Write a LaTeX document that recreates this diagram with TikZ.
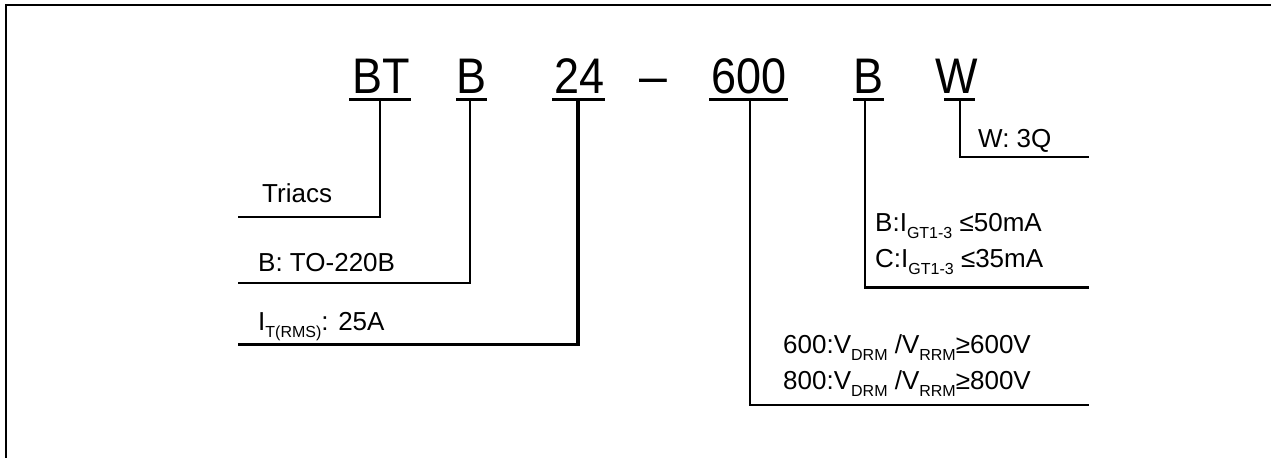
\documentclass[tikz,border=0pt]{standalone}
\usepackage{fontspec}
\setmainfont{Liberation Sans}
\newcommand{\sbs}[1]{\raisebox{-0.28em}{\fontsize{16}{16}\selectfont #1}}
\newcommand{\narrowtxt}[1]{\scalebox{0.9}[1]{#1}}
\begin{document}
\begin{tikzpicture}[x=1pt,y=-1pt,
  part/.style={anchor=base, inner sep=0pt, font=\fontsize{50}{50}\selectfont},
  lbl/.style={anchor=base west, inner sep=0pt, font=\fontsize{26}{26}\selectfont},
  leader/.style={line width=1.4pt},
  uline/.style={line width=3pt},
  heavy/.style={line width=4pt},
  heavyh/.style={line width=3pt}]
\useasboundingbox (0,0) rectangle (1271,458);
% frame
\draw[line width=2pt] (1271,4.5) -- (5.5,4.5) -- (5.5,458);
% title parts
\node[part] (bt) at (381.5,93) {\narrowtxt{BT}};
\node[part] (pk) at (472,93) {\narrowtxt{B}};
\node[part] (cur) at (579.5,93) {\narrowtxt{24}};
\node[part] (dash) at (653.5,93) {–};
\node[part] (volt) at (749,93) {\narrowtxt{600}};
\node[part] (gate) at (868,93) {\narrowtxt{B}};
\node[part] (quad) at (957,93) {\narrowtxt{W}};
% underlines
\coordinate (u1a) at (349,99); \coordinate (u1b) at (411,99);
\coordinate (u2a) at (456,99); \coordinate (u2b) at (487,99);
\coordinate (u3a) at (552,99); \coordinate (u3b) at (605,99);
\coordinate (u4a) at (709,99); \coordinate (u4b) at (788,99);
\coordinate (u5a) at (853,99); \coordinate (u5b) at (884,99);
\coordinate (u6a) at (944,99); \coordinate (u6b) at (975,99);
\foreach \i in {1,...,6} {\draw[uline] (u\i a) -- (u\i b);}
% labels
\node[lbl] (ltri) at (262,202) {Triacs};
\node[lbl] (lpk) at (258,271) {B: TO-220B};
\node[lbl] (lcur) at (258,330) {I\sbs{T(RMS)}: 25A};
\node[lbl] (lv1) at (783,353) {600:V\sbs{DRM} /V\sbs{RRM}≥600V};
\node[lbl] (lv2) at (783,389) {800:V\sbs{DRM} /V\sbs{RRM}≥800V};
\node[lbl] (lg1) at (875,231) {B:I\sbs{GT1-3} ≤50mA};
\node[lbl] (lg2) at (875,267) {C:I\sbs{GT1-3} ≤35mA};
\node[lbl] (lq) at (978,147) {W: 3Q};
% leader ends
\coordinate (e1) at (238,217);
\coordinate (e2) at (238,283);
\coordinate (e3) at (238,344);
\coordinate (e4) at (1089,405);
\coordinate (e5) at (1089,287);
\coordinate (e6) at (1089,157);
% leaders
\draw[leader] (380,99) |- (e1);
\draw[leader] (470,99) |- (e2);
\draw[heavy] (578,99) -- (578,344);
\draw[heavyh] (579.5,344) -- (e3);
\draw[leader] (750,99) |- (e4);
\draw[leader] (865,99) -- (865,287);
\draw[heavyh] (864.3,287) -- (e5);
\draw[leader] (960,99) |- (e6);
\end{tikzpicture}
\end{document}
